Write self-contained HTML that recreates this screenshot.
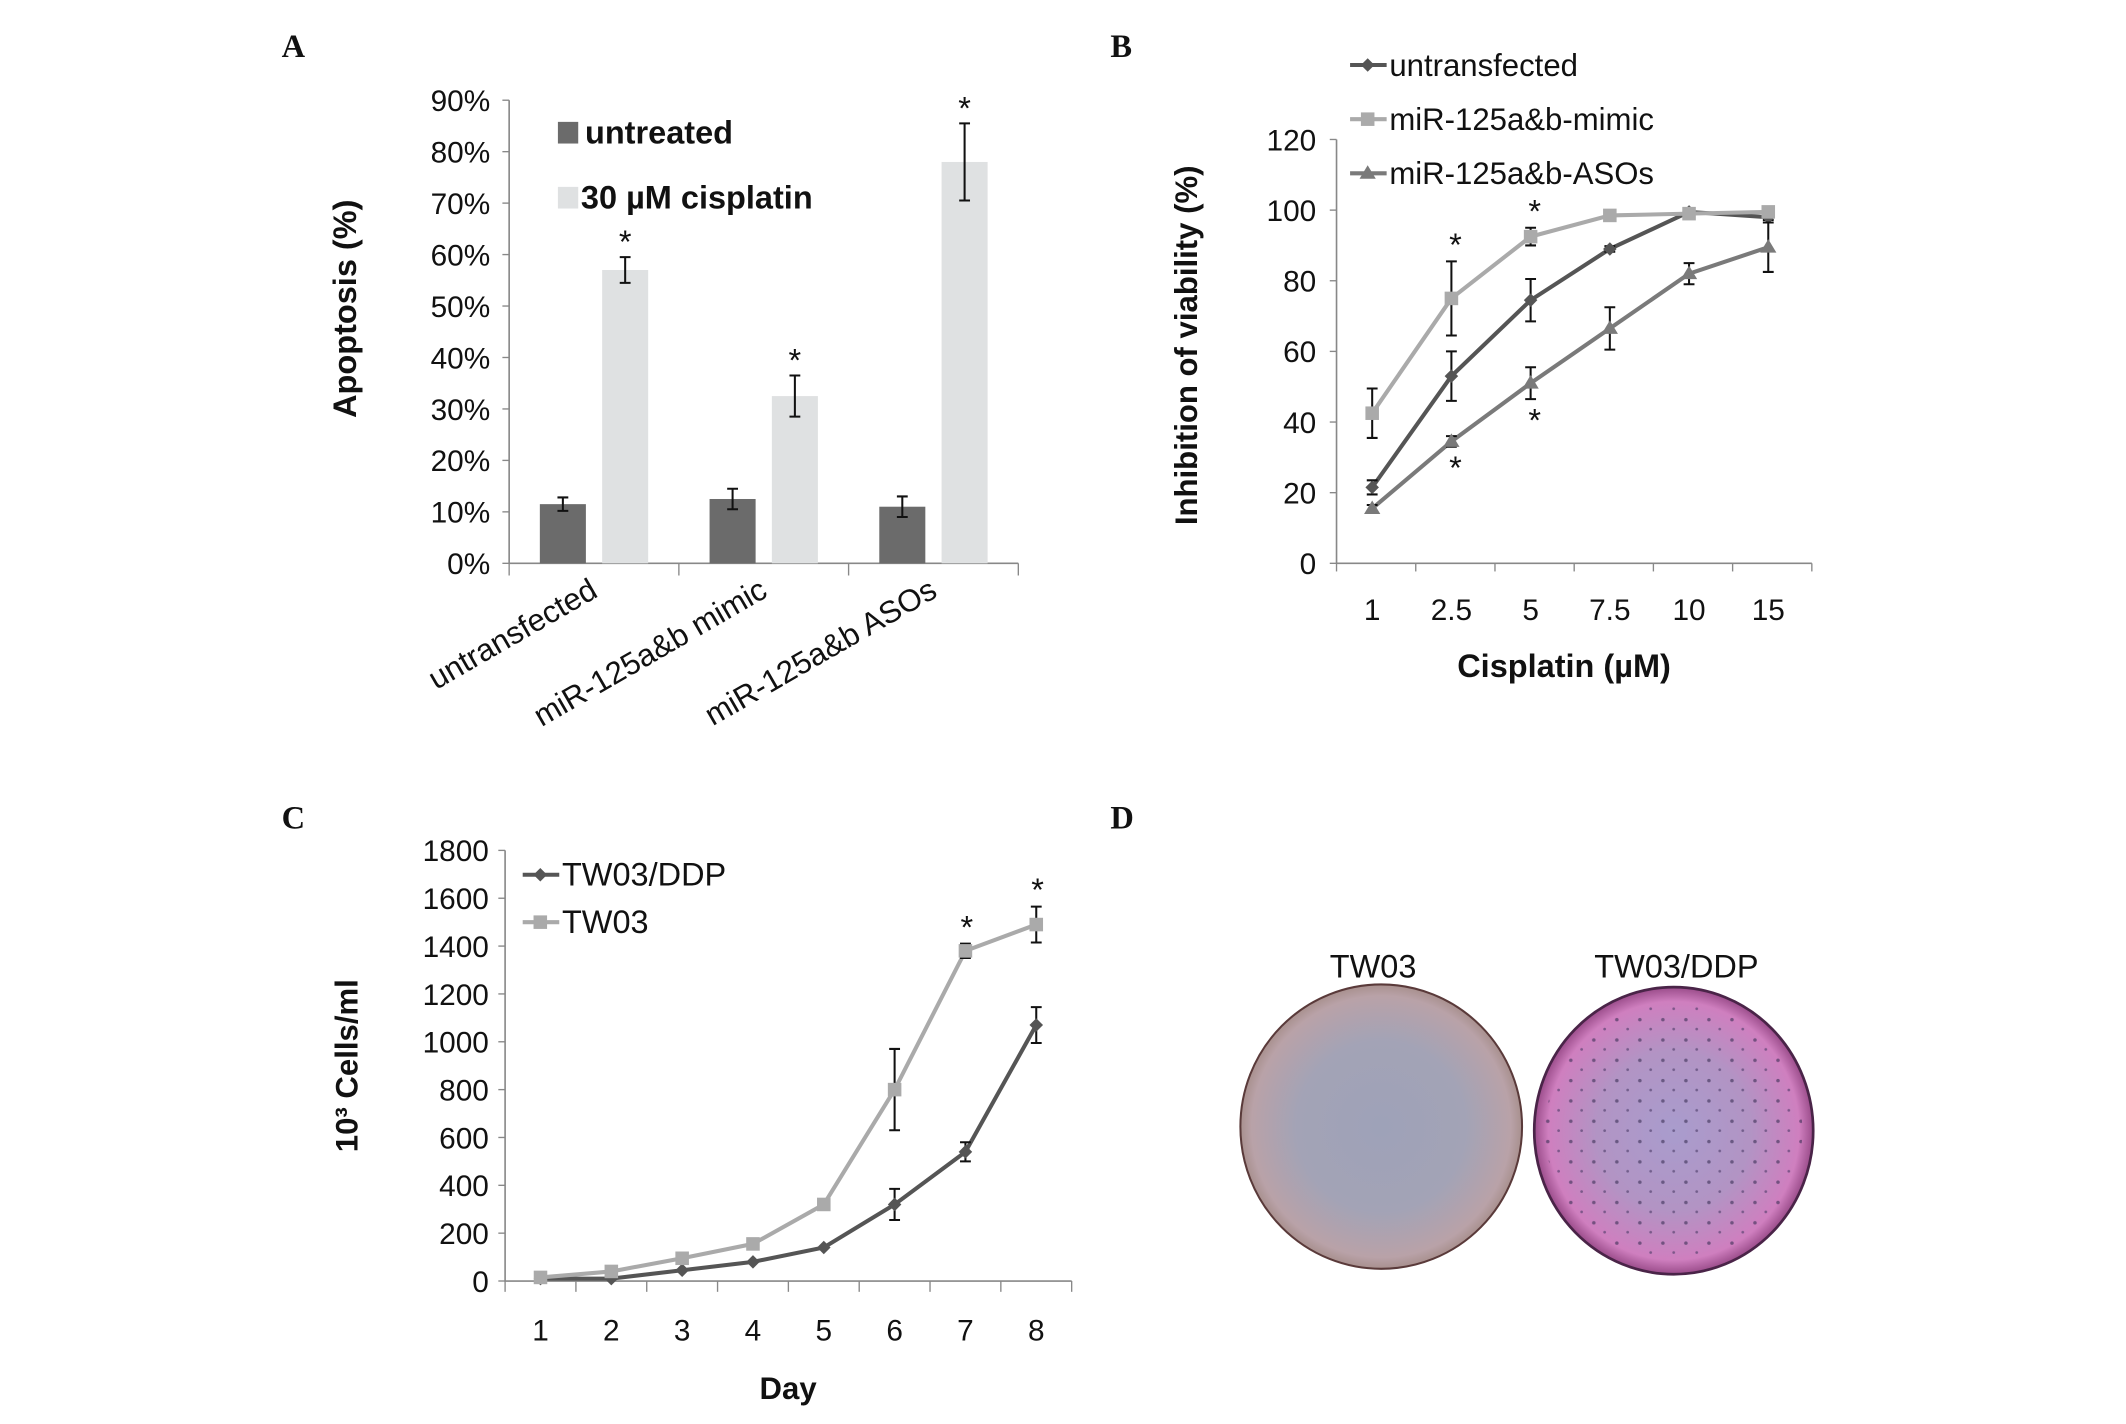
<!DOCTYPE html>
<html><head><meta charset="utf-8"><style>
html,body{margin:0;padding:0;background:#fff}
svg{display:block}
text{font-family:"Liberation Sans",sans-serif;fill:#111}
</style></head><body>
<svg width="2126" height="1424" viewBox="0 0 1570 1051.6" preserveAspectRatio="none">
<defs>
<radialGradient id="gL" cx="50%" cy="50%" r="50%"><stop offset="0" stop-color="#9ea2b8"/><stop offset="0.6" stop-color="#a3a3b6"/><stop offset="0.92" stop-color="#b9a2a8"/><stop offset="1" stop-color="#a8908e"/></radialGradient>
<radialGradient id="gR" cx="50%" cy="50%" r="50%"><stop offset="0" stop-color="#a99ccd"/><stop offset="0.55" stop-color="#b294c4"/><stop offset="0.9" stop-color="#cf7fbf"/><stop offset="1" stop-color="#9a4c8a"/></radialGradient>
<pattern id="dots" width="17" height="15" patternUnits="userSpaceOnUse"><circle cx="4" cy="3" r="1.3" fill="#3a2f55"/><circle cx="12" cy="10" r="1" fill="#4a3a66"/></pattern>
<clipPath id="cR"><circle cx="1236" cy="835" r="95"/></clipPath>
</defs>
<g id="panelA"></g>
<g id="panelB"></g>
<g id="panelC"></g>
<g id="panelD">
<text x="820" y="612" font-weight="bold" font-size="24" style="font-family:'Liberation Serif',serif">D</text>
<text x="1014" y="722" font-size="24" text-anchor="middle">TW03</text>
<text x="1238" y="722" font-size="24" text-anchor="middle">TW03/DDP</text>
<ellipse cx="1020" cy="832" rx="104" ry="105" fill="url(#gL)" stroke="#5a3a3a" stroke-width="1.5"/>
<ellipse cx="1236" cy="835" rx="103" ry="106" fill="url(#gR)" stroke="#4a2448" stroke-width="2"/>
<rect x="1130" y="728" width="210" height="212" fill="url(#dots)" clip-path="url(#cR)" opacity="0.6"/>
</g>
<script>
// Panel A data
const catsA = ["untransfected","miR-125a&b mimic","miR-125a&b ASOs"];
const untreatedA = [11.5, 12.5, 11];
const untreatedErrA = [1.3, 2, 2];
const cisA = [57, 32.5, 78];
const cisErrA = [2.5, 4, 7.5];
const ticksA = [0,10,20,30,40,50,60,70,80,90];
// Panel B data
const catsB = ["1","2.5","5","7.5","10","15"];
const untB = [21.5, 53, 74.5, 89, 99.5, 98];
const untErrB = [2, 7, 6, 0.8, 0.8, 0.8];
const mimB = [42.5, 75, 92.5, 98.5, 99, 99.5];
const mimErrB = [7, 10.5, 2.5, 0.8, 0.8, 0.8];
const asoB = [15.5, 34.5, 51, 66.5, 82, 89.5];
const asoErrB = [1, 1.5, 4.5, 6, 3, 7];
const ticksB = [0,20,40,60,80,100,120];
// Panel C data
const daysC = ["1","2","3","4","5","6","7","8"];
const ddpC = [10, 10, 45, 80, 140, 320, 540, 1070];
const ddpErrC = [0, 0, 0, 0, 0, 65, 40, 75];
const twC = [15, 40, 95, 155, 320, 800, 1380, 1490];
const twErrC = [0, 0, 0, 0, 0, 170, 30, 75];
const ticksC = [0,200,400,600,800,1000,1200,1400,1600,1800];

const NS = "http://www.w3.org/2000/svg";
function mk(parent, tag, attrs, txt){
  const e = document.createElementNS(NS, tag);
  for (const k in attrs) e.setAttribute(k, attrs[k]);
  if (txt !== undefined) e.textContent = txt;
  parent.appendChild(e);
  return e;
}

/* ---------- Panel A ---------- */
const A = document.getElementById('panelA');
const ayA = v => 416 - v * (342/90);
const x0A = 376, x1A = 752, bandA = (x1A - x0A) / 3;
let t = mk(A,'text',{x:208,y:42,'font-size':24,'font-weight':'bold',style:"font-family:'Liberation Serif',serif"},'A');
 
let ax = mk(A,'path',{d:`M${x0A} ${ayA(90)}V${ayA(0)}H${x1A}`,stroke:'#888',fill:'none','stroke-width':1.2});
 
ticksA.forEach(v=>{
  const l = mk(A,'line',{x1:x0A-5,x2:x0A,y1:ayA(v),y2:ayA(v),stroke:'#888'});
   
  const tx = mk(A,'text',{x:362,y:ayA(v)+8,'font-size':22,'text-anchor':'end'},v+'%');
   
});
for(let i=0;i<=3;i++){
  const l = mk(A,'line',{x1:x0A+i*bandA,x2:x0A+i*bandA,y1:ayA(0),y2:ayA(0)+9,stroke:'#888'});
   
}
function errBar(g, x, yTop, yBot, w, name){
  const p = mk(g,'path',{d:`M${x} ${yTop}V${yBot}M${x-w} ${yTop}H${x+w}M${x-w} ${yBot}H${x+w}`,stroke:'#111','stroke-width':1.5,fill:'none'});
   
}
catsA.forEach((c,i)=>{
  const cx = x0A + bandA*(i+0.5);
  const bw = 34;
  const b1 = mk(A,'rect',{x:cx-40,y:ayA(untreatedA[i]),width:bw,height:ayA(0)-ayA(untreatedA[i]),fill:'#6b6b6b'});
   
  errBar(A, cx-23, ayA(untreatedA[i]+untreatedErrA[i]), ayA(untreatedA[i]-untreatedErrA[i]), 4, 'error-bar-untreated');
  const b2 = mk(A,'rect',{x:cx+6,y:ayA(cisA[i]),width:bw,height:ayA(0)-ayA(cisA[i]),fill:'#dfe1e2'});
   
  errBar(A, cx+23, ayA(cisA[i]+cisErrA[i]), ayA(cisA[i]-cisErrA[i]), 4, 'error-bar-cisplatin');
  const s = mk(A,'text',{x:cx+23,y:ayA(cisA[i]+cisErrA[i])-3,'font-size':24,'text-anchor':'middle'},'*');
   
  const lb = mk(A,'text',{x:cx+4,y:ayA(0)+24,'font-size':23,'text-anchor':'end',transform:`rotate(-30 ${cx+4} ${ayA(0)+24})`},c);
   
});
t = mk(A,'text',{x:263,y:228,'font-size':24,'font-weight':'bold','text-anchor':'middle',transform:'rotate(-90 263 228)'},'Apoptosis (%)');
 
let r = mk(A,'rect',{x:412,y:90,width:15,height:16,fill:'#6b6b6b'});  
t = mk(A,'text',{x:432,y:106,'font-size':24,'font-weight':'bold'},'untreated');  
r = mk(A,'rect',{x:412,y:138,width:15,height:16,fill:'#dfe1e2'});  
t = mk(A,'text',{x:429,y:154,'font-size':24,'font-weight':'bold'},'30 µM cisplatin');  

/* ---------- Panel B ---------- */
const B = document.getElementById('panelB');
const ayB = v => 416 - v * (313/120);
const x0B = 987, stepB = 58.5, x1B = x0B + stepB*6;
const axB = i => x0B + stepB*(i+0.45);
t = mk(B,'text',{x:820,y:42,'font-size':24,'font-weight':'bold',style:"font-family:'Liberation Serif',serif"},'B');
 
ax = mk(B,'path',{d:`M${x0B} ${ayB(120)}V${ayB(0)}H${x1B}`,stroke:'#888',fill:'none','stroke-width':1.2});
 
ticksB.forEach(v=>{
  const l = mk(B,'line',{x1:x0B-5,x2:x0B,y1:ayB(v),y2:ayB(v),stroke:'#888'});
   
  const tx = mk(B,'text',{x:972,y:ayB(v)+8,'font-size':22,'text-anchor':'end'},String(v));
   
});
for(let i=0;i<=6;i++){
  const l = mk(B,'line',{x1:x0B+i*stepB,x2:x0B+i*stepB,y1:ayB(0),y2:ayB(0)+6,stroke:'#888'});
   
}
catsB.forEach((c,i)=>{
  const tx = mk(B,'text',{x:axB(i),y:458,'font-size':22,'text-anchor':'middle'},c);
   
});
function series(g, xs, ys, errs, ay, color, marker, name){
  const pts = ys.map((v,i)=>[xs(i), ay(v)]);
  const pl = mk(g,'polyline',{points:pts.map(p=>p.join(',')).join(' '),fill:'none',stroke:color,'stroke-width':3});
   
  ys.forEach((v,i)=>{
    if (errs[i] > 0) errBar(g, xs(i), ay(v+errs[i]), ay(v-errs[i]), 4, 'error-bar-'+name);
    const [x,y] = pts[i];
    let m;
    if (marker==='diamond') m = mk(g,'path',{d:`M${x} ${y-5}L${x+5} ${y}L${x} ${y+5}L${x-5} ${y}Z`,fill:color});
    else if (marker==='square') m = mk(g,'rect',{x:x-5,y:y-5,width:10,height:10,fill:color});
    else m = mk(g,'path',{d:`M${x} ${y-6}L${x+6} ${y+4}L${x-6} ${y+4}Z`,fill:color});
     
  });
}
series(B, axB, untB, untErrB, ayB, '#555', 'diamond', 'untransfected');
series(B, axB, asoB, asoErrB, ayB, '#7a7a7a', 'triangle', 'asos');
series(B, axB, mimB, mimErrB, ayB, '#aaa', 'square', 'mimic');
[[1,mimB,mimErrB,-1],[2,mimB,mimErrB,-1],[1,asoB,asoErrB,1],[2,asoB,asoErrB,1]].forEach(([i,arr,er,dir])=>{
  const y = dir<0 ? ayB(arr[i]+er[i])-4 : ayB(arr[i]-er[i])+24;
  const s = mk(B,'text',{x:axB(i)+3,y:y,'font-size':24,'text-anchor':'middle'},'*');
   
});
t = mk(B,'text',{x:1155,y:500,'font-size':24,'font-weight':'bold','text-anchor':'middle'},'Cisplatin (µM)');
 
t = mk(B,'text',{x:884,y:255,'font-size':23,'font-weight':'bold','text-anchor':'middle',transform:'rotate(-90 884 255)'},'Inhibition of viability (%)');
 
[['untransfected','#555','diamond',48],['miR-125a&b-mimic','#aaa','square',88],['miR-125a&b-ASOs','#7a7a7a','triangle',128]].forEach(([lbl,col,mkr,y])=>{
  const l = mk(B,'line',{x1:997,x2:1024,y1:y,y2:y,stroke:col,'stroke-width':3});
   
  let m;
  if (mkr==='diamond') m = mk(B,'path',{d:`M1010 ${y-5}L1015 ${y}L1010 ${y+5}L1005 ${y}Z`,fill:col});
  else if (mkr==='square') m = mk(B,'rect',{x:1005,y:y-5,width:10,height:10,fill:col});
  else m = mk(B,'path',{d:`M1010 ${y-6}L1016 ${y+4}L1004 ${y+4}Z`,fill:col});
   
  const tx = mk(B,'text',{x:1026,y:y+8,'font-size':23},lbl);
   
});

/* ---------- Panel C ---------- */
const C = document.getElementById('panelC');
const ayC = v => 946 - v * (318/1800);
const x0C = 373, stepC = 52.3, x1C = x0C + stepC*8;
const axC = i => x0C + stepC*(i+0.5);
t = mk(C,'text',{x:208,y:612,'font-size':24,'font-weight':'bold',style:"font-family:'Liberation Serif',serif"},'C');
 
ax = mk(C,'path',{d:`M${x0C} ${ayC(1800)}V${ayC(0)}H${x1C}`,stroke:'#888',fill:'none','stroke-width':1.2});
 
ticksC.forEach(v=>{
  const l = mk(C,'line',{x1:x0C-5,x2:x0C,y1:ayC(v),y2:ayC(v),stroke:'#888'});
   
  const tx = mk(C,'text',{x:361,y:ayC(v)+8,'font-size':22,'text-anchor':'end'},String(v));
   
});
for(let i=0;i<=8;i++){
  const l = mk(C,'line',{x1:x0C+i*stepC,x2:x0C+i*stepC,y1:ayC(0),y2:ayC(0)+8,stroke:'#888'});
   
}
daysC.forEach((d,i)=>{
  const tx = mk(C,'text',{x:axC(i),y:990,'font-size':22,'text-anchor':'middle'},d);
   
});
series(C, axC, ddpC, ddpErrC, ayC, '#555', 'diamond', 'tw03-ddp');
series(C, axC, twC, twErrC, ayC, '#aaa', 'square', 'tw03');
[6,7].forEach(i=>{
  const s = mk(C,'text',{x:axC(i)+1,y:ayC(twC[i]+twErrC[i])-4,'font-size':24,'text-anchor':'middle'},'*');
   
});
t = mk(C,'text',{x:582,y:1033,'font-size':23,'font-weight':'bold','text-anchor':'middle'},'Day');
 
t = mk(C,'text',{x:264,y:787,'font-size':23,'font-weight':'bold','text-anchor':'middle',transform:'rotate(-90 264 787)'},'10³ Cells/ml');
 
[['TW03/DDP','#555','diamond',646],['TW03','#aaa','square',681]].forEach(([lbl,col,mkr,y])=>{
  const l = mk(C,'line',{x1:386,x2:413,y1:y,y2:y,stroke:col,'stroke-width':3});
   
  const m = mkr==='diamond' ? mk(C,'path',{d:`M399 ${y-5}L404 ${y}L399 ${y+5}L394 ${y}Z`,fill:col}) : mk(C,'rect',{x:394,y:y-5,width:10,height:10,fill:col});
   
  const tx = mk(C,'text',{x:415,y:y+8,'font-size':24},lbl);
   
});
</script>
</svg>
</body></html>
